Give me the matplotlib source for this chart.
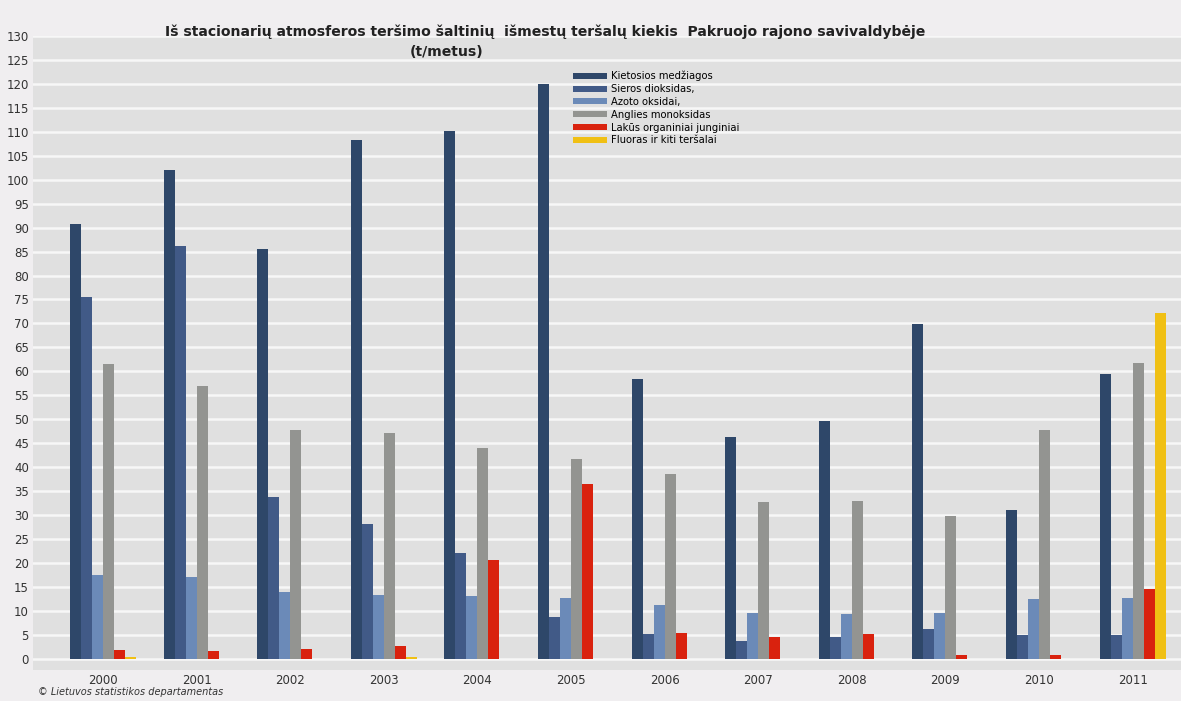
import numpy as np
import matplotlib.pyplot as plt

# data (t/metus)
years = ['2000', '2001', '2002', '2003', '2004', '2005',
         '2006', '2007', '2008', '2009', '2010', '2011']
kietosios = [90.7, 102.1, 85.5, 108.2, 110.1, 120.0, 58.5, 46.3, 49.6, 69.9, 31.0, 59.5]
sieros = [75.6, 86.2, 33.7, 28.2, 22.1, 8.7, 5.2, 3.8, 4.6, 6.3, 5.0, 5.0]
azoto = [17.4, 17.1, 14.0, 13.3, 13.0, 12.6, 11.2, 9.6, 9.4, 9.6, 12.5, 12.7]
anglies = [61.5, 57.0, 47.8, 47.1, 43.9, 41.6, 38.5, 32.8, 33.0, 29.8, 47.8, 61.8]
lakus = [1.8, 1.6, 2.0, 2.6, 20.7, 36.5, 5.3, 4.6, 5.1, 0.7, 0.7, 14.6]
fluoras = [0.4, 0.0, 0.0, 0.3, 0.0, 0.0, 0.0, 0.0, 0.0, 0.0, 0.0, 72.1]

labels = ['Kietosios medžiagos', 'Sieros dioksidas,', 'Azoto oksidai,',
          'Anglies monoksidas', 'Lakūs organiniai junginiai', 'Fluoras ir kiti teršalai']
series = [kietosios, sieros, azoto, anglies, lakus, fluoras]
colors = ['#2e4769', '#415a87', '#6b8ab8', '#939491', '#d9220e', '#f0c014']

fig = plt.figure(figsize=(11.81, 7.01), dpi=100, facecolor='#f0eef0')
ax = fig.add_axes([0.028, 0.0442, 0.972, 0.9044])
ax.set_facecolor('#e0e0e0')

x = np.arange(len(years))
w = 0.1175
for k, (vals, col, lab) in enumerate(zip(series, colors, labels)):
    ax.bar(x + (k - 2.5) * w, vals, width=w, color=col, label=lab, zorder=3)

ax.set_ylim(-2.35, 130)
ax.set_xlim(-0.748, 11.517)
ax.set_yticks(np.arange(0, 131, 5))
ax.set_xticks(x)
ax.set_xticklabels(years)
ax.tick_params(length=0, labelsize=8.5, colors='#333333')
ax.tick_params(axis='y', pad=3)
ax.tick_params(axis='x', pad=3)
ax.grid(axis='y', color='#f7f7f7', linewidth=1.8, zorder=1)
for s in ax.spines.values():
    s.set_visible(False)

leg = ax.legend(loc='upper left', bbox_to_anchor=(0.466, 0.953), frameon=False,
                fontsize=7.2, handlelength=3.4, handleheight=0.55,
                labelspacing=0.28, handletextpad=0.4, borderpad=0)

fig.text(0.462, 0.955, 'Iš stacionarių atmosferos teršimo šaltinių  išmestų teršalų kiekis  Pakruojo rajono savivaldybėje',
         ha='center', va='center', fontsize=10.1, fontweight='bold', color='#222222')
fig.text(0.378, 0.926, '(t/metus)', ha='center', va='center',
         fontsize=10.1, fontweight='bold', color='#222222')
fig.text(0.032, 0.013, '© Lietuvos statistikos departamentas', ha='left', va='center',
         fontsize=7, style='italic', color='#333333')

plt.savefig('out.png', dpi=100, facecolor=fig.get_facecolor())
